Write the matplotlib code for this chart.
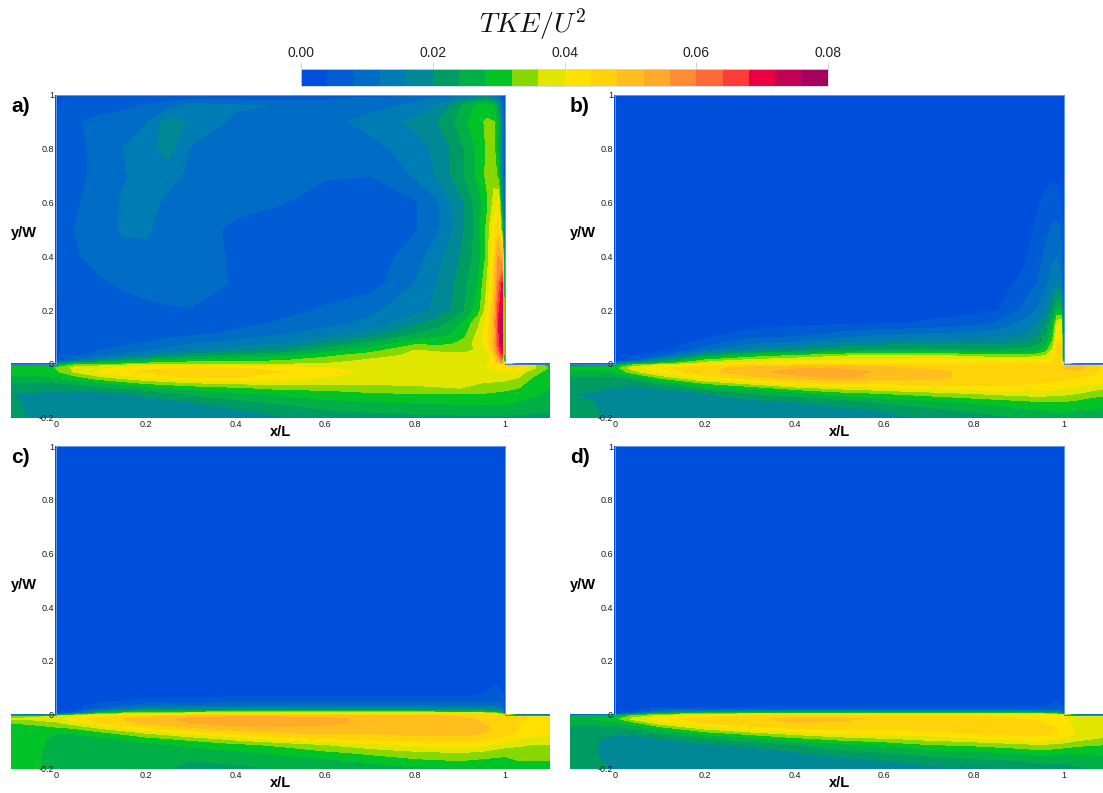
import numpy as np
import matplotlib
matplotlib.use("Agg")
import matplotlib.pyplot as plt
from matplotlib.colors import ListedColormap, BoundaryNorm
from matplotlib.cm import ScalarMappable

plt.rcParams['font.family'] = ['Liberation Sans', 'DejaVu Sans']
plt.rcParams['mathtext.fontset'] = 'cm'

# all TKE values below are TKE/U^2 * 1000
band_colors = ['#004edc', '#005cd4', '#006cc6', '#007cb4', '#008896', '#009b62', '#00af46', '#00c328',
               '#87d700', '#e1e600', '#ffe100', '#ffd20a', '#ffbe1e', '#ffaa28', '#ff8c32', '#ff6937',
               '#ff3c37', '#eb0041', '#c30055', '#a5005f']
level_edges = [0, 4, 8, 12, 16, 20, 24, 28, 32, 36, 40, 44, 48, 52, 56, 60, 64, 68, 72, 76, 80]
cbar_ticks = [0, 20, 40, 60, 80]
cbar_labels = ['0.00', '0.02', '0.04', '0.06', '0.08']
x_ticks = [0, 0.2, 0.4, 0.6, 0.8, 1]
x_tick_labels = ['0', '0.2', '0.4', '0.6', '0.8', '1']
y_ticks = [-0.2, 0, 0.2, 0.4, 0.6, 0.8, 1]
y_tick_labels = ['-0.2', '0', '0.2', '0.4', '0.6', '0.8', '1']

# grids: full cavity (a, b), lower cavity (c, d), duct (all)
x_cav = [0, .01, .04, .1, .15, .2, .25, .3, .4, .5, .6, .7, .8, .85, .88, .91, .94, .96, .975, .985, .993, 1]
y_cav = [0, .01, .03, .05, .08, .11, .15, .2, .3, .4, .5, .6, .7, .8, .9, .96, .99, 1]
x_low = [0, .04, .1, .2, .4, .6, .8, .9, .95, .98, .99, 1]
y_low = [0, .005, .01, .02, .03, .05, .07, .1, .15, 1]
x_duct = [-.1, -.05, 0, .04, .1, .2, .3, .4, .5, .6, .7, .8, .9, .95, 1, 1.03, 1.06, 1.1]
y_duct = [-.2, -.17, -.14, -.11, -.09, -.07, -.05, -.03, -.015, -.005, 0]

cavity_a = [
    [14, 20, 28, 31, 32, 33, 34, 35, 35, 35, 36, 38, 39, 39, 39, 39, 39, 39, 41, 46, 50, 40],
    [3, 8, 13, 20, 24, 27, 29, 30, 31, 32, 34, 37, 38, 38, 38, 38, 38, 38, 42, 50, 58, 10],
    [2, 4.5, 6.5, 10, 13, 16, 19, 22, 25, 27, 31, 34, 37, 38, 38, 38, 38, 38, 44, 56, 66, 8],
    [2, 4, 5.5, 8, 9, 11, 13, 15, 18, 20, 26, 30, 36, 35, 34, 34, 37, 40, 50, 62, 70, 8],
    [2, 4, 5, 6, 7, 8, 9.5, 11, 13, 15, 19, 24, 30, 30, 31, 33, 38, 42, 52, 66, 74, 8],
    [2, 4, 5, 5.5, 6, 6, 6.5, 7, 9, 11.5, 14, 18, 24, 26, 28, 31, 37, 42, 50, 66, 74, 8],
    [2, 4, 5, 5.5, 5.5, 5.5, 5.5, 5.5, 6.5, 8.5, 10.5, 13, 19, 22, 25, 29, 35, 42, 52, 68, 74, 7],
    [2, 4.5, 5.5, 6, 6.5, 7, 7.5, 7.8, 7.9, 6.5, 8.5, 11, 14.5, 17, 20, 24, 30, 38, 50, 66, 72, 6],
    [2, 5, 6.5, 7.5, 8.5, 9.5, 10, 9.5, 7.7, 6, 5.5, 6, 12, 16, 19, 23, 28, 36, 46, 60, 68, 5],
    [2, 5.5, 7.5, 9.5, 10.5, 11, 10.5, 9.5, 7.5, 5.5, 5, 5.5, 10, 14.5, 18, 21, 26, 33, 44, 56, 50, 4],
    [2, 5.5, 8, 10, 12.5, 12.5, 10.5, 9.5, 7.3, 6, 5.5, 5.5, 7.5, 11.5, 15.5, 20, 26, 33, 42, 46, 30, 3],
    [2, 5.5, 7.5, 9.5, 12.5, 13.5, 11, 10, 9, 8.2, 6.5, 6, 7.5, 11.5, 16, 20, 26, 31, 37, 41, 20, 3],
    [2, 5.5, 7, 9, 11.5, 14, 13.5, 11, 9, 8.5, 8.3, 8, 12.5, 16.5, 20, 24, 29, 33, 35, 30, 15, 3],
    [2, 5, 7, 9, 12, 14.5, 17.5, 11.5, 9.5, 9, 9, 10.5, 14, 17, 20, 24, 29, 32.5, 33, 25, 12, 2.5],
    [2, 5, 7.5, 9, 10, 11.5, 18, 15.5, 11, 10.5, 10.5, 13.5, 17, 20, 23, 27, 31, 32.5, 32, 26, 14, 2],
    [2, 5, 6, 6.5, 7, 8.5, 10, 14, 12.5, 11.8, 10, 10.5, 13, 16, 20, 25, 29, 30, 28, 20, 10, 2],
    [2, 3.5, 5, 5, 5.5, 5.5, 6, 6, 6, 6, 7, 8.5, 10.5, 12, 14, 16, 19, 20, 17, 12, 7, 2],
    [2, 2, 2, 2, 2, 2, 2, 2, 2, 2, 2, 2, 2, 2, 2, 2, 2, 2, 2, 2, 2, 2],
]
duct_a = [
    [21, 19.5, 16.5, 16, 16, 16, 17, 18, 19.5, 21, 22, 22.5, 23, 23, 23, 23, 23, 22.5],
    [21, 19, 17, 16.5, 16.5, 17, 18, 19.5, 22, 24, 25, 26, 26, 26, 26, 25.5, 25, 24.5],
    [20.5, 19, 17, 17, 17, 18, 20, 23, 25, 27, 28, 28.5, 29, 29, 29, 28, 27, 25.5],
    [20, 19.5, 19, 18.5, 19, 21, 25, 27, 29, 30.5, 31.5, 32, 32, 32, 31, 30, 29, 27],
    [22, 22, 21, 21, 23, 26, 29, 31, 33, 33, 34, 35, 36, 35, 33, 32, 30, 28],
    [24, 24, 24, 25, 28, 33, 36, 37, 38, 37.5, 37, 37, 37, 36, 35, 33, 31, 29.5],
    [27, 27, 28, 30, 35, 40, 44, 44, 43, 40, 39, 39, 39, 39, 38, 36, 32, 30],
    [30, 30, 31, 36, 41, 45, 47, 46, 44, 41, 39.5, 39.5, 39.5, 39.5, 40, 38, 34, 30],
    [30, 30, 32, 37, 39, 42, 44, 44, 42, 40, 39, 39, 39, 39, 42, 44, 37, 31],
    [24, 25, 27, 32, 34, 37, 37, 37, 37, 37, 38, 39, 39, 39, 44, 46, 38, 28],
    [2, 2, 14, 28, 28, 32, 35, 35, 35, 36, 38, 39, 39, 39, 40, 3, 3, 3],
]

cavity_b = [
    [12, 17, 24, 30, 34, 38, 40, 41, 42, 42, 42, 43, 43, 43, 43, 43, 43, 43, 44, 46, 47, 35],
    [2.5, 3, 8, 20, 28, 34, 36, 38, 40, 41, 41, 42, 42, 42, 42, 42, 42, 41, 43, 47, 47, 8],
    [2, 2, 3, 7, 14, 22, 26, 29, 32, 35, 37, 37, 34, 33, 33, 33, 34, 36, 41, 46, 46, 6],
    [2, 2, 2.5, 3, 6, 11, 14, 17, 20, 23, 25, 25, 24, 24, 25, 25, 27, 30, 37, 45, 45, 5],
    [2, 2, 2, 2.5, 3, 5, 8, 10, 12, 15, 17, 18, 18, 18, 19, 20, 22, 26, 33, 44, 44, 5],
    [2, 2, 2, 2, 2.5, 2.5, 4, 5, 6, 9, 11, 12, 13, 14, 15, 16, 19, 23, 30, 42, 42, 5],
    [2, 2, 2, 2, 2, 2, 2.5, 2.5, 3, 3.5, 3.5, 4.5, 6, 8.5, 11, 13, 16, 20, 27, 38, 40, 4],
    [2, 2, 2, 2, 2, 2, 2, 2, 2, 2, 2, 2.5, 3, 3.5, 6, 9, 12, 16, 22, 28, 26, 4],
    [2, 2, 2, 2, 2, 2, 2, 2, 2, 2, 2, 2, 2, 2.5, 3.5, 5, 8, 11, 14, 16, 13, 3],
    [2, 2, 2, 2, 2, 2, 2, 2, 2, 2, 2, 2, 2, 2, 2, 3.2, 6, 9, 11, 12, 9, 3],
    [2, 2, 2, 2, 2, 2, 2, 2, 2, 2, 2, 2, 2, 2, 2, 2.5, 4.5, 7, 8.5, 9, 6, 3],
    [2, 2, 2, 2, 2, 2, 2, 2, 2, 2, 2, 2, 2, 2, 2, 2, 3.5, 5, 6, 5.5, 4, 2],
    [2, 2, 2, 2, 2, 2, 2, 2, 2, 2, 2, 2, 2, 2, 2, 2, 2, 3, 3, 3, 2.5, 2],
    [2, 2, 2, 2, 2, 2, 2, 2, 2, 2, 2, 2, 2, 2, 2, 2, 2, 2, 2, 2, 2, 2],
    [2, 2, 2, 2, 2, 2, 2, 2, 2, 2, 2, 2, 2, 2, 2, 2, 2, 2, 2, 2, 2, 2],
    [2, 2, 2, 2, 2, 2, 2, 2, 2, 2, 2, 2, 2, 2, 2, 2, 2, 2, 2, 2, 2, 2],
    [2, 2, 2, 2, 2, 2, 2, 2, 2, 2, 2, 2, 2, 2, 2, 2, 2, 2, 2, 2, 2, 2],
    [2, 2, 2, 2, 2, 2, 2, 2, 2, 2, 2, 2, 2, 2, 2, 2, 2, 2, 2, 2, 2, 2],
]
duct_b = [
    [22, 21, 17, 16.5, 16.5, 16.5, 17, 17, 17.5, 18.5, 20.5, 22, 24, 25, 26, 26, 26, 25],
    [22, 21, 17, 17, 17, 17, 17, 18, 19, 20.5, 23, 25, 27, 28, 29, 28, 28, 27],
    [21, 20, 17.5, 17, 17, 17.5, 18.5, 20, 22, 25, 27, 29, 31, 32, 32, 31, 30, 29],
    [20, 19.5, 18, 17.5, 18, 20, 24, 26, 30, 32, 34, 36, 38, 38, 37, 36, 34, 33],
    [21, 21, 19.5, 19, 20, 25, 29, 34, 37, 39, 41, 42, 42, 42, 40, 39, 38, 36],
    [24, 24, 22, 21, 25, 33, 38, 43, 45, 45, 46, 46, 45, 44, 43, 42, 41, 39],
    [23, 23, 23, 25, 33, 42, 47, 50, 53, 50, 49, 47, 47, 46, 45, 44, 43, 42],
    [27, 27, 28, 34, 41, 47, 50, 54, 54, 51, 49, 47, 47, 47, 46, 46, 45, 43],
    [29, 29, 30, 38, 43, 47, 49, 51, 51, 49, 47, 46, 46, 46, 48, 51, 46, 41],
    [20, 21, 24, 32, 37, 42, 45, 46, 47, 46, 45, 45, 45, 45, 48, 48, 45, 40],
    [2, 2, 12, 24, 30, 38, 41, 42, 42, 42, 43, 43, 43, 43, 35, 3, 3, 3],
]

cavity_c = [
    [14, 28, 36, 42, 44, 44, 44, 44, 44, 40, 38, 30],
    [3, 10, 30, 36, 38, 38, 38, 38, 38, 34, 30, 6],
    [2.5, 5, 22, 30, 32, 32, 32, 30, 28, 24, 22, 5],
    [2, 3, 10, 18, 20, 20, 20, 18, 17, 16, 14, 4],
    [2, 2.5, 6, 11, 12.5, 13, 13, 12, 12, 11, 10, 4],
    [2, 2, 3, 5, 6, 6.5, 6.5, 6, 6, 7, 7, 3],
    [2, 2, 2.2, 3, 3.5, 3.8, 3.8, 3.8, 4, 5.5, 5.5, 3],
    [2, 2, 2, 2, 2, 2, 2, 2, 2.5, 4.5, 3.5, 2],
    [2, 2, 2, 2, 2, 2, 2, 2, 2, 2, 2, 2],
    [2, 2, 2, 2, 2, 2, 2, 2, 2, 2, 2, 2],
]
duct_c = [
    [30, 29, 26, 25, 25, 24.5, 23.5, 23.5, 24, 25, 26, 27, 28, 28.5, 28, 29, 30, 31],
    [29, 29, 26, 25, 25, 24.5, 24, 24.5, 25.5, 27, 29, 31, 32, 31, 31, 32, 32, 32],
    [29, 29, 26, 25, 25, 25, 25.5, 27, 29, 31, 33, 35, 36, 35, 33, 33, 34, 34],
    [29, 29, 27, 26, 26, 27, 29, 31, 33, 36, 39, 41, 42, 41, 38, 37, 36, 36],
    [29, 29, 27, 26.5, 27, 30, 33, 37, 41, 43, 45, 46, 46, 45, 42, 40, 39, 38],
    [29, 29, 28, 28, 30, 35, 40, 44, 47, 48, 48, 49, 49, 48, 45, 43, 41, 40],
    [30, 30, 31, 32, 36, 43, 47, 50, 51, 50, 50, 50, 50, 49, 46, 44, 43, 42],
    [32, 33, 35, 38, 44, 49, 52, 54, 54, 53, 51, 52, 50, 48, 46, 44, 43, 42],
    [36, 37, 38, 42, 46, 50, 53, 56, 55, 53, 51, 50, 49, 47, 45, 45, 43, 42],
    [33, 34, 36, 39, 42, 46, 48, 50, 50, 50, 49, 49, 47, 46, 44, 46, 43, 40],
    [2, 2, 14, 28, 36, 42, 43, 44, 44, 44, 44, 44, 44, 44, 35, 3, 3, 3],
]

cavity_d = [
    [12, 24, 33, 38, 42, 42, 42, 42, 41, 38, 35, 28],
    [3, 7, 24, 30, 33, 33, 33, 32, 30, 26, 24, 6],
    [2.5, 4, 14, 20, 22, 22, 22, 20, 18, 17, 16, 5],
    [2, 2.5, 5, 6.5, 7.5, 7.5, 7.5, 7, 6.5, 7, 7, 4],
    [2, 2, 2.5, 3, 3.5, 3.8, 3.8, 3.5, 3.5, 5, 5, 3],
    [2, 2, 2, 2, 2, 2, 2, 2, 2.5, 4, 4, 2.5],
    [2, 2, 2, 2, 2, 2, 2, 2, 2, 2, 2, 2],
    [2, 2, 2, 2, 2, 2, 2, 2, 2, 2, 2, 2],
    [2, 2, 2, 2, 2, 2, 2, 2, 2, 2, 2, 2],
    [2, 2, 2, 2, 2, 2, 2, 2, 2, 2, 2, 2],
]
duct_d = [
    [22, 21, 19.5, 18, 17, 17, 17, 17, 17, 18, 18.5, 19.5, 20.5, 21.5, 22, 23, 24, 25],
    [21, 20.5, 19, 17, 17, 17, 17, 17.5, 18.5, 20, 22, 23, 24, 25, 25, 26, 26.5, 27],
    [21, 20.5, 18, 17, 17, 17.5, 18, 19.5, 22, 24, 25.5, 27, 28.5, 30, 28.5, 28.5, 28.5, 29],
    [21, 20.5, 18, 17, 17.5, 19.5, 21, 24, 27, 29, 32, 33, 35, 36, 34.5, 33, 32.5, 32],
    [21, 20.5, 19, 18, 19.5, 23, 26, 30, 33, 35, 37, 39, 41, 41.5, 39.5, 37, 36, 35],
    [21, 21, 20.5, 20.5, 23, 29, 33, 37, 40, 41, 42, 44, 45, 45, 43, 39, 37, 37],
    [23, 23, 23, 24, 29, 37, 42, 44, 45, 45, 45, 45.5, 45.5, 46, 43, 39, 37, 37],
    [25, 25, 26, 30, 38, 44, 47, 48, 47, 47, 46, 46, 45, 44, 41, 38, 37, 37],
    [27, 28, 30, 37, 42, 46, 47, 49, 49, 47, 46, 45, 44, 43, 41, 38, 37, 36],
    [24, 24, 26, 33, 37, 42, 44, 45, 45, 44, 44, 44, 43, 42, 40, 38, 37, 36],
    [2, 2, 12, 24, 33, 38, 41, 42, 42, 42, 42, 42, 42, 42, 35, 3, 3, 3],
]

W, H = 1103, 793


def px_axes(fig, left, top, right, bottom):
    # axes placed by pixel box, y counted from the top of the image
    return fig.add_axes([left / W, 1 - bottom / H, (right - left) / W, (bottom - top) / H])


cmap = ListedColormap(band_colors)
norm = BoundaryNorm(level_edges, cmap.N)

fig = plt.figure(figsize=(W / 100, H / 100), dpi=100)


def filled(ax, xs, ys, vals):
    cs = ax.contourf(xs, ys, vals, levels=level_edges, cmap=cmap, norm=norm)
    # no seams between bands
    cs.set_edgecolor('face')
    cs.set_linewidth(0.3)


def draw_panel(left, top, letter, xc, yc, cavity, duct):
    # left = pixel of x/L=-0.1, top = pixel of y/W=1
    width = 539
    height = 322.5
    ax = px_axes(fig, left, top, left + width, top + height)
    filled(ax, xc, yc, cavity)
    filled(ax, x_duct, y_duct, duct)

    # thin light outline like the exported surface edges
    ax.plot([xc[0], xc[0], xc[-1], xc[-1]], [yc[0], yc[-1], yc[-1], yc[0]], color='#8db8f2', lw=0.5, zorder=3)
    ax.plot([x_duct[0], xc[0]], [0, 0], color='#3a78e0', lw=0.7, zorder=3)
    ax.plot([xc[-1], x_duct[-1]], [0, 0], color='#3a78e0', lw=0.7, zorder=3)

    ax.set_xlim(x_duct[0], x_duct[-1])
    ax.set_ylim(y_duct[0], yc[-1])
    for s in ax.spines.values():
        s.set_visible(False)
    ax.spines['left'].set_position(('data', 0))
    ax.patch.set_alpha(0)
    ax.set_xticks(x_ticks)
    ax.set_xticklabels(x_tick_labels)
    ax.set_yticks(y_ticks)
    ax.set_yticklabels(y_tick_labels)
    ax.tick_params(axis='both', length=0, labelsize=6.5, labelcolor='#1a1a1a')
    ax.tick_params(axis='x', pad=2)
    ax.tick_params(axis='y', pad=1.5)

    fig.text(left / W, 1 - (top + 11) / H, letter, fontsize=15, fontweight='bold', ha='left', va='center')
    fig.text((left + 0) / W, 1 - (top + 138.5) / H, 'y/W', fontsize=10.5, fontweight='bold', ha='left', va='center')
    fig.text((left + 270) / W, 1 - (top + 337) / H, 'x/L', fontsize=10.5, fontweight='bold', ha='center', va='center')


draw_panel(11, 95, 'a)', x_cav, y_cav, cavity_a, duct_a)
draw_panel(570, 95, 'b)', x_cav, y_cav, cavity_b, duct_b)
draw_panel(11, 446, 'c)', x_low, y_low, cavity_c, duct_c)
draw_panel(570, 446, 'd)', x_low, y_low, cavity_d, duct_d)

# colorbar on top
cax = px_axes(fig, 301, 69, 828, 86)
cb = fig.colorbar(ScalarMappable(norm=norm, cmap=cmap), cax=cax, orientation='horizontal',
                  spacing='proportional', ticks=cbar_ticks)
cb.ax.xaxis.set_ticks_position('top')
cb.ax.set_xticklabels(cbar_labels)
cb.ax.tick_params(axis='x', length=5, width=0.6, color='#cccccc', labelsize=10, pad=1.8, labelcolor='#222222')
cb.ax.minorticks_off()
cb.outline.set_edgecolor('#cfd8ea')
cb.outline.set_linewidth(0.6)

fig.text(533 / W, 1 - 24 / H, r'$TKE/U^2$', fontsize=20, ha='center', va='center', color='#111111')

fig.savefig('out.png', dpi=100)
